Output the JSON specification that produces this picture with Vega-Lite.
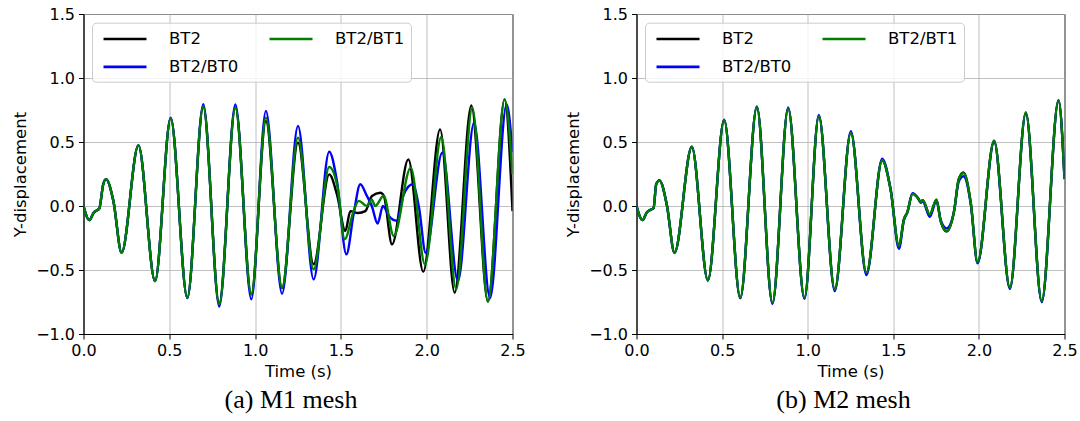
{
  "$schema": "https://vega.github.io/schema/vega-lite/v6.json",
  "background": "white",
  "padding": {"left": 11.5, "top": 5, "right": 5, "bottom": 5},
  "spacing": 124,
  "bounds": "flush",
  "resolve": {"scale": {"color": "independent"}, "legend": {"color": "independent"}},
  "config": {
    "font": "DejaVu Sans",
    "view": {"stroke": "black", "strokeWidth": 1},
    "axis": {
      "domainColor": "black", "domainWidth": 1,
      "tickColor": "black", "tickSize": 5, "tickWidth": 1,
      "gridColor": "#b0b0b0", "gridWidth": 0.8,
      "labelFont": "DejaVu Sans", "labelFontSize": 16, "labelColor": "black",
      "labelOverlap": false, "labelFlush": false, "labelBound": false,
      "titleFont": "DejaVu Sans", "titleFontSize": 16.5, "titleFontWeight": "normal", "titleColor": "black"
    },
    "axisX": {"labelPadding": 3, "titlePadding": 5},
    "axisY": {"labelPadding": 4, "titlePadding": 7},
    "legend": {
      "orient": "none", "legendX": 8.5, "legendY": 8.7, "columns": 2,
      "columnPadding": 25, "rowPadding": 9.2, "padding": 6,
      "fillColor": "rgba(255,255,255,0.8)", "strokeColor": "#cccccc", "cornerRadius": 4,
      "symbolType": "M-1,0H4.06", "symbolSize": 289, "symbolOffset": 4, "symbolStrokeWidth": 2.6, "symbolOpacity": 1,
      "labelOffset": 47, "labelFont": "DejaVu Sans", "labelFontSize": 16.5, "labelColor": "black"
    },
    "title": {"font": "Liberation Serif", "fontSize": 26, "fontWeight": "normal", "color": "black", "orient": "bottom", "anchor": "middle", "offset": 7}
  },
  "datasets": {
    "m1": [
      {"s":"BT2","t":0,"y":0},{"s":"BT2","t":0.034,"y":-0.11},{"s":"BT2","t":0.06,"y":-0.05},{"s":"BT2","t":0.092,"y":-0.02},{"s":"BT2","t":0.115,"y":0.17},{"s":"BT2","t":0.131,"y":0.21},{"s":"BT2","t":0.174,"y":0.04},{"s":"BT2","t":0.222,"y":-0.365},{"s":"BT2","t":0.32,"y":0.474},{"s":"BT2","t":0.417,"y":-0.586},{"s":"BT2","t":0.508,"y":0.685},{"s":"BT2","t":0.605,"y":-0.716},{"s":"BT2","t":0.698,"y":0.775},{"s":"BT2","t":0.791,"y":-0.76},{"s":"BT2","t":0.885,"y":0.77},{"s":"BT2","t":0.978,"y":-0.69},{"s":"BT2","t":1.063,"y":0.664},{"s":"BT2","t":1.157,"y":-0.64},{"s":"BT2","t":1.25,"y":0.495},{"s":"BT2","t":1.341,"y":-0.455},{"s":"BT2","t":1.432,"y":0.247},{"s":"BT2","t":1.477,"y":0.09},{"s":"BT2","t":1.526,"y":-0.195},{"s":"BT2","t":1.555,"y":-0.04},{"s":"BT2","t":1.6,"y":-0.055},{"s":"BT2","t":1.642,"y":-0.04},{"s":"BT2","t":1.681,"y":0.078},{"s":"BT2","t":1.73,"y":0.104},{"s":"BT2","t":1.75,"y":0.08},{"s":"BT2","t":1.798,"y":-0.3},{"s":"BT2","t":1.893,"y":0.364},{"s":"BT2","t":1.98,"y":-0.513},{"s":"BT2","t":2.078,"y":0.599},{"s":"BT2","t":2.163,"y":-0.677},{"s":"BT2","t":2.26,"y":0.786},{"s":"BT2","t":2.357,"y":-0.747},{"s":"BT2","t":2.454,"y":0.833},{"s":"BT2","t":2.5,"y":-0.04},
      {"s":"BT2/BT0","t":0,"y":0},{"s":"BT2/BT0","t":0.034,"y":-0.11},{"s":"BT2/BT0","t":0.06,"y":-0.05},{"s":"BT2/BT0","t":0.092,"y":-0.02},{"s":"BT2/BT0","t":0.115,"y":0.17},{"s":"BT2/BT0","t":0.131,"y":0.21},{"s":"BT2/BT0","t":0.174,"y":0.04},{"s":"BT2/BT0","t":0.222,"y":-0.365},{"s":"BT2/BT0","t":0.32,"y":0.474},{"s":"BT2/BT0","t":0.417,"y":-0.586},{"s":"BT2/BT0","t":0.508,"y":0.69},{"s":"BT2/BT0","t":0.605,"y":-0.72},{"s":"BT2/BT0","t":0.698,"y":0.795},{"s":"BT2/BT0","t":0.791,"y":-0.785},{"s":"BT2/BT0","t":0.885,"y":0.794},{"s":"BT2/BT0","t":0.978,"y":-0.729},{"s":"BT2/BT0","t":1.063,"y":0.742},{"s":"BT2/BT0","t":1.157,"y":-0.685},{"s":"BT2/BT0","t":1.25,"y":0.625},{"s":"BT2/BT0","t":1.341,"y":-0.573},{"s":"BT2/BT0","t":1.432,"y":0.424},{"s":"BT2/BT0","t":1.477,"y":0.195},{"s":"BT2/BT0","t":1.532,"y":-0.378},{"s":"BT2/BT0","t":1.574,"y":-0.065},{"s":"BT2/BT0","t":1.613,"y":0.17},{"s":"BT2/BT0","t":1.651,"y":0.08},{"s":"BT2/BT0","t":1.68,"y":0.0},{"s":"BT2/BT0","t":1.714,"y":-0.138},{"s":"BT2/BT0","t":1.745,"y":0.0},{"s":"BT2/BT0","t":1.78,"y":-0.078},{"s":"BT2/BT0","t":1.825,"y":-0.115},{"s":"BT2/BT0","t":1.866,"y":0.09},{"s":"BT2/BT0","t":1.918,"y":0.17},{"s":"BT2/BT0","t":1.955,"y":-0.01},{"s":"BT2/BT0","t":1.994,"y":-0.365},{"s":"BT2/BT0","t":2.091,"y":0.417},{"s":"BT2/BT0","t":2.182,"y":-0.586},{"s":"BT2/BT0","t":2.276,"y":0.651},{"s":"BT2/BT0","t":2.369,"y":-0.72},{"s":"BT2/BT0","t":2.466,"y":0.794},{"s":"BT2/BT0","t":2.5,"y":0.42},
      {"s":"BT2/BT1","t":0,"y":0},{"s":"BT2/BT1","t":0.034,"y":-0.11},{"s":"BT2/BT1","t":0.06,"y":-0.05},{"s":"BT2/BT1","t":0.092,"y":-0.02},{"s":"BT2/BT1","t":0.115,"y":0.17},{"s":"BT2/BT1","t":0.131,"y":0.21},{"s":"BT2/BT1","t":0.174,"y":0.04},{"s":"BT2/BT1","t":0.222,"y":-0.365},{"s":"BT2/BT1","t":0.32,"y":0.474},{"s":"BT2/BT1","t":0.417,"y":-0.586},{"s":"BT2/BT1","t":0.508,"y":0.685},{"s":"BT2/BT1","t":0.605,"y":-0.716},{"s":"BT2/BT1","t":0.698,"y":0.78},{"s":"BT2/BT1","t":0.791,"y":-0.768},{"s":"BT2/BT1","t":0.885,"y":0.768},{"s":"BT2/BT1","t":0.978,"y":-0.69},{"s":"BT2/BT1","t":1.063,"y":0.69},{"s":"BT2/BT1","t":1.157,"y":-0.638},{"s":"BT2/BT1","t":1.25,"y":0.534},{"s":"BT2/BT1","t":1.341,"y":-0.495},{"s":"BT2/BT1","t":1.432,"y":0.305},{"s":"BT2/BT1","t":1.48,"y":0.15},{"s":"BT2/BT1","t":1.522,"y":-0.26},{"s":"BT2/BT1","t":1.574,"y":-0.04},{"s":"BT2/BT1","t":1.604,"y":0.04},{"s":"BT2/BT1","t":1.651,"y":0.0},{"s":"BT2/BT1","t":1.68,"y":0.05},{"s":"BT2/BT1","t":1.7,"y":0.0},{"s":"BT2/BT1","t":1.749,"y":0.08},{"s":"BT2/BT1","t":1.808,"y":-0.234},{"s":"BT2/BT1","t":1.907,"y":0.3},{"s":"BT2/BT1","t":1.99,"y":-0.456},{"s":"BT2/BT1","t":2.085,"y":0.539},{"s":"BT2/BT1","t":2.172,"y":-0.65},{"s":"BT2/BT1","t":2.266,"y":0.768},{"s":"BT2/BT1","t":2.357,"y":-0.747},{"s":"BT2/BT1","t":2.454,"y":0.833},{"s":"BT2/BT1","t":2.5,"y":0.25}
    ],
    "m2": [
      {"s":"BT2","t":0,"y":0},{"s":"BT2","t":0.035,"y":-0.11},{"s":"BT2","t":0.06,"y":-0.05},{"s":"BT2","t":0.088,"y":-0.026},{"s":"BT2","t":0.1,"y":-0.015},{"s":"BT2","t":0.115,"y":0.17},{"s":"BT2","t":0.134,"y":0.2},{"s":"BT2","t":0.177,"y":0.01},{"s":"BT2","t":0.222,"y":-0.365},{"s":"BT2","t":0.323,"y":0.461},{"s":"BT2","t":0.417,"y":-0.58},{"s":"BT2","t":0.512,"y":0.672},{"s":"BT2","t":0.606,"y":-0.718},{"s":"BT2","t":0.703,"y":0.773},{"s":"BT2","t":0.794,"y":-0.758},{"s":"BT2","t":0.886,"y":0.763},{"s":"BT2","t":0.981,"y":-0.718},{"s":"BT2","t":1.065,"y":0.703},{"s":"BT2","t":1.158,"y":-0.653},{"s":"BT2","t":1.252,"y":0.573},{"s":"BT2","t":1.343,"y":-0.523},{"s":"BT2","t":1.435,"y":0.357},{"s":"BT2","t":1.484,"y":0.13},{"s":"BT2","t":1.533,"y":-0.315},{"s":"BT2","t":1.562,"y":-0.104},{"s":"BT2","t":1.582,"y":-0.05},{"s":"BT2","t":1.612,"y":0.095},{"s":"BT2","t":1.645,"y":0.06},{"s":"BT2","t":1.66,"y":0.03},{"s":"BT2","t":1.672,"y":0.045},{"s":"BT2","t":1.713,"y":-0.068},{"s":"BT2","t":1.752,"y":0.05},{"s":"BT2","t":1.777,"y":-0.12},{"s":"BT2","t":1.812,"y":-0.2},{"s":"BT2","t":1.855,"y":-0.04},{"s":"BT2","t":1.882,"y":0.21},{"s":"BT2","t":1.91,"y":0.262},{"s":"BT2","t":1.953,"y":0.02},{"s":"BT2","t":1.992,"y":-0.44},{"s":"BT2","t":2.089,"y":0.51},{"s":"BT2","t":2.181,"y":-0.64},{"s":"BT2","t":2.274,"y":0.73},{"s":"BT2","t":2.367,"y":-0.744},{"s":"BT2","t":2.465,"y":0.826},{"s":"BT2","t":2.5,"y":0.21},
      {"s":"BT2/BT0","t":0,"y":0},{"s":"BT2/BT0","t":0.035,"y":-0.11},{"s":"BT2/BT0","t":0.06,"y":-0.05},{"s":"BT2/BT0","t":0.088,"y":-0.026},{"s":"BT2/BT0","t":0.1,"y":-0.015},{"s":"BT2/BT0","t":0.115,"y":0.17},{"s":"BT2/BT0","t":0.134,"y":0.2},{"s":"BT2/BT0","t":0.177,"y":0.01},{"s":"BT2/BT0","t":0.222,"y":-0.367},{"s":"BT2/BT0","t":0.323,"y":0.463},{"s":"BT2/BT0","t":0.417,"y":-0.583},{"s":"BT2/BT0","t":0.512,"y":0.675},{"s":"BT2/BT0","t":0.606,"y":-0.722},{"s":"BT2/BT0","t":0.703,"y":0.778},{"s":"BT2/BT0","t":0.794,"y":-0.765},{"s":"BT2/BT0","t":0.886,"y":0.77},{"s":"BT2/BT0","t":0.981,"y":-0.725},{"s":"BT2/BT0","t":1.065,"y":0.712},{"s":"BT2/BT0","t":1.158,"y":-0.665},{"s":"BT2/BT0","t":1.252,"y":0.585},{"s":"BT2/BT0","t":1.343,"y":-0.54},{"s":"BT2/BT0","t":1.435,"y":0.37},{"s":"BT2/BT0","t":1.484,"y":0.135},{"s":"BT2/BT0","t":1.533,"y":-0.335},{"s":"BT2/BT0","t":1.562,"y":-0.11},{"s":"BT2/BT0","t":1.582,"y":-0.05},{"s":"BT2/BT0","t":1.612,"y":0.1},{"s":"BT2/BT0","t":1.645,"y":0.06},{"s":"BT2/BT0","t":1.66,"y":0.025},{"s":"BT2/BT0","t":1.672,"y":0.035},{"s":"BT2/BT0","t":1.713,"y":-0.085},{"s":"BT2/BT0","t":1.752,"y":0.04},{"s":"BT2/BT0","t":1.777,"y":-0.11},{"s":"BT2/BT0","t":1.812,"y":-0.175},{"s":"BT2/BT0","t":1.855,"y":-0.04},{"s":"BT2/BT0","t":1.882,"y":0.19},{"s":"BT2/BT0","t":1.91,"y":0.232},{"s":"BT2/BT0","t":1.953,"y":0.01},{"s":"BT2/BT0","t":1.992,"y":-0.448},{"s":"BT2/BT0","t":2.089,"y":0.5},{"s":"BT2/BT0","t":2.181,"y":-0.648},{"s":"BT2/BT0","t":2.274,"y":0.722},{"s":"BT2/BT0","t":2.367,"y":-0.752},{"s":"BT2/BT0","t":2.465,"y":0.82},{"s":"BT2/BT0","t":2.5,"y":0.23},
      {"s":"BT2/BT1","t":0,"y":0},{"s":"BT2/BT1","t":0.035,"y":-0.11},{"s":"BT2/BT1","t":0.06,"y":-0.05},{"s":"BT2/BT1","t":0.088,"y":-0.026},{"s":"BT2/BT1","t":0.1,"y":-0.015},{"s":"BT2/BT1","t":0.115,"y":0.17},{"s":"BT2/BT1","t":0.134,"y":0.2},{"s":"BT2/BT1","t":0.177,"y":0.01},{"s":"BT2/BT1","t":0.222,"y":-0.365},{"s":"BT2/BT1","t":0.323,"y":0.461},{"s":"BT2/BT1","t":0.417,"y":-0.58},{"s":"BT2/BT1","t":0.512,"y":0.672},{"s":"BT2/BT1","t":0.606,"y":-0.716},{"s":"BT2/BT1","t":0.703,"y":0.773},{"s":"BT2/BT1","t":0.794,"y":-0.755},{"s":"BT2/BT1","t":0.886,"y":0.763},{"s":"BT2/BT1","t":0.981,"y":-0.716},{"s":"BT2/BT1","t":1.065,"y":0.703},{"s":"BT2/BT1","t":1.158,"y":-0.651},{"s":"BT2/BT1","t":1.252,"y":0.573},{"s":"BT2/BT1","t":1.343,"y":-0.521},{"s":"BT2/BT1","t":1.435,"y":0.357},{"s":"BT2/BT1","t":1.484,"y":0.13},{"s":"BT2/BT1","t":1.533,"y":-0.312},{"s":"BT2/BT1","t":1.562,"y":-0.104},{"s":"BT2/BT1","t":1.582,"y":-0.05},{"s":"BT2/BT1","t":1.612,"y":0.095},{"s":"BT2/BT1","t":1.645,"y":0.06},{"s":"BT2/BT1","t":1.66,"y":0.03},{"s":"BT2/BT1","t":1.672,"y":0.045},{"s":"BT2/BT1","t":1.713,"y":-0.065},{"s":"BT2/BT1","t":1.752,"y":0.05},{"s":"BT2/BT1","t":1.777,"y":-0.12},{"s":"BT2/BT1","t":1.812,"y":-0.195},{"s":"BT2/BT1","t":1.855,"y":-0.04},{"s":"BT2/BT1","t":1.882,"y":0.208},{"s":"BT2/BT1","t":1.91,"y":0.258},{"s":"BT2/BT1","t":1.953,"y":0.02},{"s":"BT2/BT1","t":1.992,"y":-0.438},{"s":"BT2/BT1","t":2.089,"y":0.508},{"s":"BT2/BT1","t":2.181,"y":-0.638},{"s":"BT2/BT1","t":2.274,"y":0.729},{"s":"BT2/BT1","t":2.367,"y":-0.742},{"s":"BT2/BT1","t":2.465,"y":0.826},{"s":"BT2/BT1","t":2.5,"y":0.21}
    ]
  },
  "hconcat": [
    {
      "width": 429, "height": 320,
      "title": {"text": "(a) M1 mesh", "dx": -7},
      "data": {"name": "m1"},
      "encoding": {
        "x": {"field": "t", "type": "quantitative", "scale": {"domain": [0, 2.5], "nice": false}, "axis": {"values": [0, 0.5, 1, 1.5, 2, 2.5], "format": ".1f", "title": "Time (s)"}},
        "y": {"field": "y", "type": "quantitative", "scale": {"domain": [-1, 1.5], "nice": false}, "axis": {"values": [-1, -0.5, 0, 0.5, 1, 1.5], "format": ".1f", "title": "Y-displacement"}},
        "color": {"field": "s", "type": "nominal", "scale": {"domain": ["BT2", "BT2/BT0", "BT2/BT1"], "range": ["#000000", "#0000ff", "#008000"]}, "legend": {"title": null, "values": ["BT2", "BT2/BT0", "BT2/BT1"]}}
      },
      "layer": [
        {"transform": [{"filter": "datum.s === 'BT2'"}], "mark": {"type": "line", "strokeWidth": 2.4, "interpolate": "monotone", "clip": true}},
        {"transform": [{"filter": "datum.s === 'BT2/BT0'"}], "mark": {"type": "line", "strokeWidth": 2.4, "interpolate": "monotone", "clip": true}},
        {"transform": [{"filter": "datum.s === 'BT2/BT1'"}], "mark": {"type": "line", "strokeWidth": 2.4, "interpolate": "monotone", "clip": true}}
      ]
    },
    {
      "width": 428, "height": 320,
      "title": {"text": "(b) M2 mesh", "dx": -7},
      "data": {"name": "m2"},
      "encoding": {
        "x": {"field": "t", "type": "quantitative", "scale": {"domain": [0, 2.5], "nice": false}, "axis": {"values": [0, 0.5, 1, 1.5, 2, 2.5], "format": ".1f", "title": "Time (s)"}},
        "y": {"field": "y", "type": "quantitative", "scale": {"domain": [-1, 1.5], "nice": false}, "axis": {"values": [-1, -0.5, 0, 0.5, 1, 1.5], "format": ".1f", "title": "Y-displacement"}},
        "color": {"field": "s", "type": "nominal", "scale": {"domain": ["BT2", "BT2/BT0", "BT2/BT1"], "range": ["#000000", "#0000ff", "#008000"]}, "legend": {"title": null, "values": ["BT2", "BT2/BT0", "BT2/BT1"]}}
      },
      "layer": [
        {"transform": [{"filter": "datum.s === 'BT2'"}], "mark": {"type": "line", "strokeWidth": 2.4, "interpolate": "monotone", "clip": true}},
        {"transform": [{"filter": "datum.s === 'BT2/BT0'"}], "mark": {"type": "line", "strokeWidth": 2.4, "interpolate": "monotone", "clip": true}},
        {"transform": [{"filter": "datum.s === 'BT2/BT1'"}], "mark": {"type": "line", "strokeWidth": 2.4, "interpolate": "monotone", "clip": true}}
      ]
    }
  ]
}
